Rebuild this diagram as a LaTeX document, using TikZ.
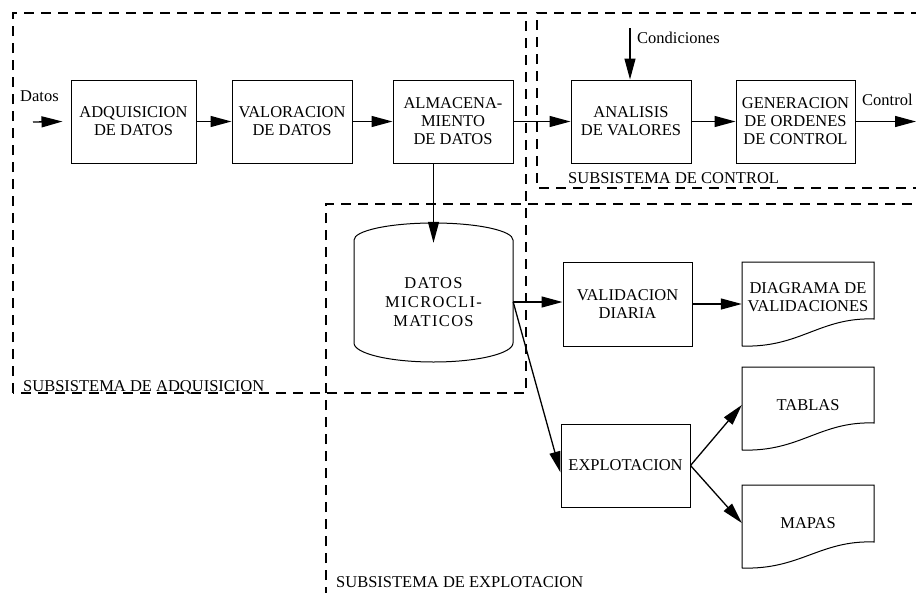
\documentclass[tikz,border=0pt]{standalone}
\usepackage{fontspec}
\setmainfont{Liberation Serif}
\usetikzlibrary{arrows.meta,calc}
\begin{document}
\begin{tikzpicture}[x=1pt,y=-1pt,
  every node/.style={font={\fontsize{16.5}{18}\selectfont}, inner sep=0pt},
  box/.style={draw, line width=1pt, minimum height=83pt, align=center},
  doctext/.style={minimum width=132pt, align=center},
  arr/.style={line width=1.3pt, -{Triangle[length=21pt,width=11pt]}},
  dashline/.style={line width=1.2pt, dash pattern=on 10pt off 7pt},
  lbl/.style={anchor=base west},
  outline/.style={line width=1pt}
]
\useasboundingbox (0,0) rectangle (916,592);

% subsystem frames
\draw[dashline] (13,393) -- (13,13) -- (526,13) -- (526,393) -- cycle;
\draw[dashline] (921,13) -- (537,13) -- (537,188) -- (921,188);
\draw[dashline] (326,597) -- (326,204) -- (921,204);

% top row boxes
\node[box, minimum width=125pt] (adq) at (133.5,121.5) {ADQUISICION\\DE DATOS};
\node[box, minimum width=120pt] (val) at (292,121.5) {VALORACION\\DE DATOS};
\node[box, minimum width=120pt] (alma) at (453,121.5) {ALMACENA-\\MIENTO\\DE DATOS};
\node[box, minimum width=120pt] (anal) at (631,121.5) {ANALISIS\\DE VALORES};
\node[box, minimum width=119pt] (gen) at (795.5,121.5) {GENERACION\\DE ORDENES\\DE CONTROL};

% cylinder
\draw[outline] (354,240) -- (354,343) arc[start angle=180, end angle=360, x radius=79.5pt, y radius=19pt] -- (513,240) arc[start angle=0, end angle=180, x radius=79.5pt, y radius=17pt];
\node[minimum width=159pt, minimum height=118pt, align=center,
      font={\fontsize{16.5}{19}\selectfont\addfontfeature{LetterSpace=8}}] (cyl) at (433.5,302) {DATOS\\MICROCLI-\\MATICOS};

% lower boxes
\node[box, minimum width=129pt, minimum height=84pt] (valid) at (627.5,304) {VALIDACION\\DIARIA};
\node[box, minimum width=129pt] (explot) at (625.5,465.5) {EXPLOTACION};

% documents
\draw[outline] (742,346) -- (742,262) -- (874,262) -- (874,319) .. controls (820,317) and (800,348) .. (742,346);
\node[doctext] (diag) at (808,297) {DIAGRAMA DE\\VALIDACIONES};
\draw[outline] (742,450) -- (742,367) -- (874,367) -- (874,423) .. controls (820,421) and (800,452) .. (742,450);
\node[doctext] (tablas) at (808,405) {TABLAS};
\draw[outline] (742,568) -- (742,485) -- (874,485) -- (874,542) .. controls (820,540) and (800,570) .. (742,568);
\node[doctext] (mapas) at (808,523) {MAPAS};

% labels
\node[lbl] (ldatos) at (20,101) {Datos};
\node[lbl] (lcond) at (637,43) {Condiciones};
\node[lbl] (lctrl) at (862,105) {Control};
\node[lbl] (ladq) at (23,391) {SUBSISTEMA DE ADQUISICION};
\node[lbl] (lcon) at (568,183) {SUBSISTEMA DE CONTROL};
\node[lbl] (lexp) at (336,587) {SUBSISTEMA DE EXPLOTACION};

% free ends
\coordinate (din) at (33,122);
\coordinate (cond) at (630,28);
\coordinate (ctl) at (916,121.5);

% connectors
\draw[arr] (din) -- ([xshift=-8pt]adq.west);
\draw[arr] (adq.east) -- (val.west);
\draw[arr] (val.east) -- (alma.west);
\draw[arr] (alma.east) -- (anal.west);
\draw[arr] (anal.east) -- (gen.west);
\draw[arr] (gen.east) -- (ctl);
\draw[arr] (cond) -- (cond |- anal.north);
\draw[arr] (alma.south -| cyl.north) -- (cyl.north);
\draw[arr] (cyl.east) -- (cyl.east -| valid.west);
\draw[arr] (valid.east) -- (valid.east -| diag.west);
\draw[arr] (cyl.east) -- ([yshift=-7pt]explot.west);
\draw[arr] (explot.east) -- (tablas.west);
\draw[arr] (explot.east) -- (mapas.west);
\end{tikzpicture}
\end{document}
